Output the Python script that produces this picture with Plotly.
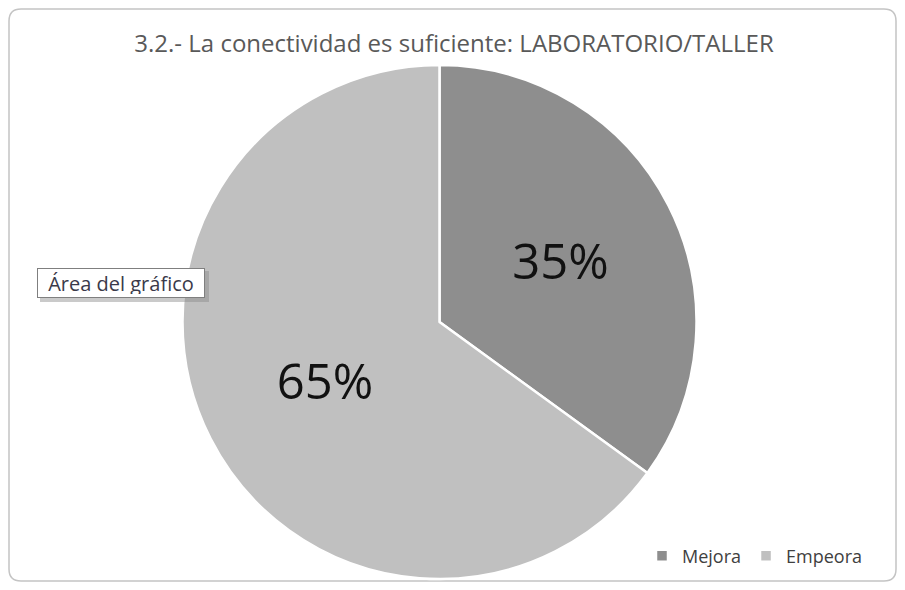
import plotly.graph_objects as go

# datos del gráfico
categorias = ["Mejora", "Empeora"]
valores = [35, 65]
colores = ["#8e8e8e", "#c0c0c0"]
titulo = "3.2.- La conectividad es suficiente: LABORATORIO/TALLER"
etiqueta_area = "Área del gráfico"

# la página añade 8px de margen al body, así que la figura es algo menor
W, H = 889, 574

fig = go.Figure()

# pastel: centro (431.5, 314) px, radio 257 px
cx, cy, r = 431.5, 314, 257
fig.add_trace(go.Pie(
    labels=categorias, values=valores,
    sort=False, direction="clockwise", rotation=0,
    marker=dict(colors=colores, line=dict(color="white", width=2.5)),
    textinfo="percent", textposition="inside", insidetextorientation="horizontal",
    textfont=dict(size=49, color="#111111", family="Open Sans"),
    domain=dict(x=[(cx - r) / W, (cx + r) / W], y=[1 - (cy + r) / H, 1 - (cy - r) / H]),
    hoverinfo="skip",
))

fig.update_layout(
    width=W, height=H,
    margin=dict(l=0, r=0, t=0, b=0),
    paper_bgcolor="white",
    plot_bgcolor="rgba(0,0,0,0)",
    title=dict(text=titulo, x=446 / W, xanchor="center", y=1 - 36 / H, yanchor="middle",
               font=dict(size=24, color="#595959", family="Open Sans")),
    showlegend=True,
    legend=dict(orientation="h", x=860 / W, xanchor="right", y=1 - 548 / H, yanchor="middle",
                font=dict(size=18, color="#404040", family="Open Sans"),
                itemwidth=30, bgcolor="rgba(0,0,0,0)"),
    # ejes auxiliares en píxeles para el marco y la etiqueta
    xaxis=dict(range=[0, W], visible=False, fixedrange=True),
    yaxis=dict(range=[H, 0], visible=False, fixedrange=True),
)

# marco con esquinas redondeadas
x0, y0, x1, y1, rr = 1, 1, 888, 573, 12
marco = (f"M{x0+rr},{y0} L{x1-rr},{y0} Q{x1},{y0} {x1},{y0+rr} L{x1},{y1-rr} Q{x1},{y1} {x1-rr},{y1} "
         f"L{x0+rr},{y1} Q{x0},{y1} {x0},{y1-rr} L{x0},{y0+rr} Q{x0},{y0} {x0+rr},{y0} Z")
fig.add_shape(type="path", xref="x", yref="y", path=marco,
              line=dict(color="#c4c4c4", width=1.5), layer="below")

# sombra y caja de "Área del gráfico"
fig.add_shape(type="rect", xref="x", yref="y", x0=32, x1=201, y0=263, y1=294,
              fillcolor="#8a8a8a", line=dict(width=0), opacity=0.45)
fig.add_annotation(x=29, y=275, xref="x", yref="y", xanchor="left", yanchor="middle",
                   text=etiqueta_area, showarrow=False, width=160, height=22,
                   font=dict(size=20, color="#3a3a4a", family="Open Sans"),
                   bgcolor="white", bordercolor="#7f7f7f", borderwidth=1, borderpad=3)

fig.write_html("out.html")
